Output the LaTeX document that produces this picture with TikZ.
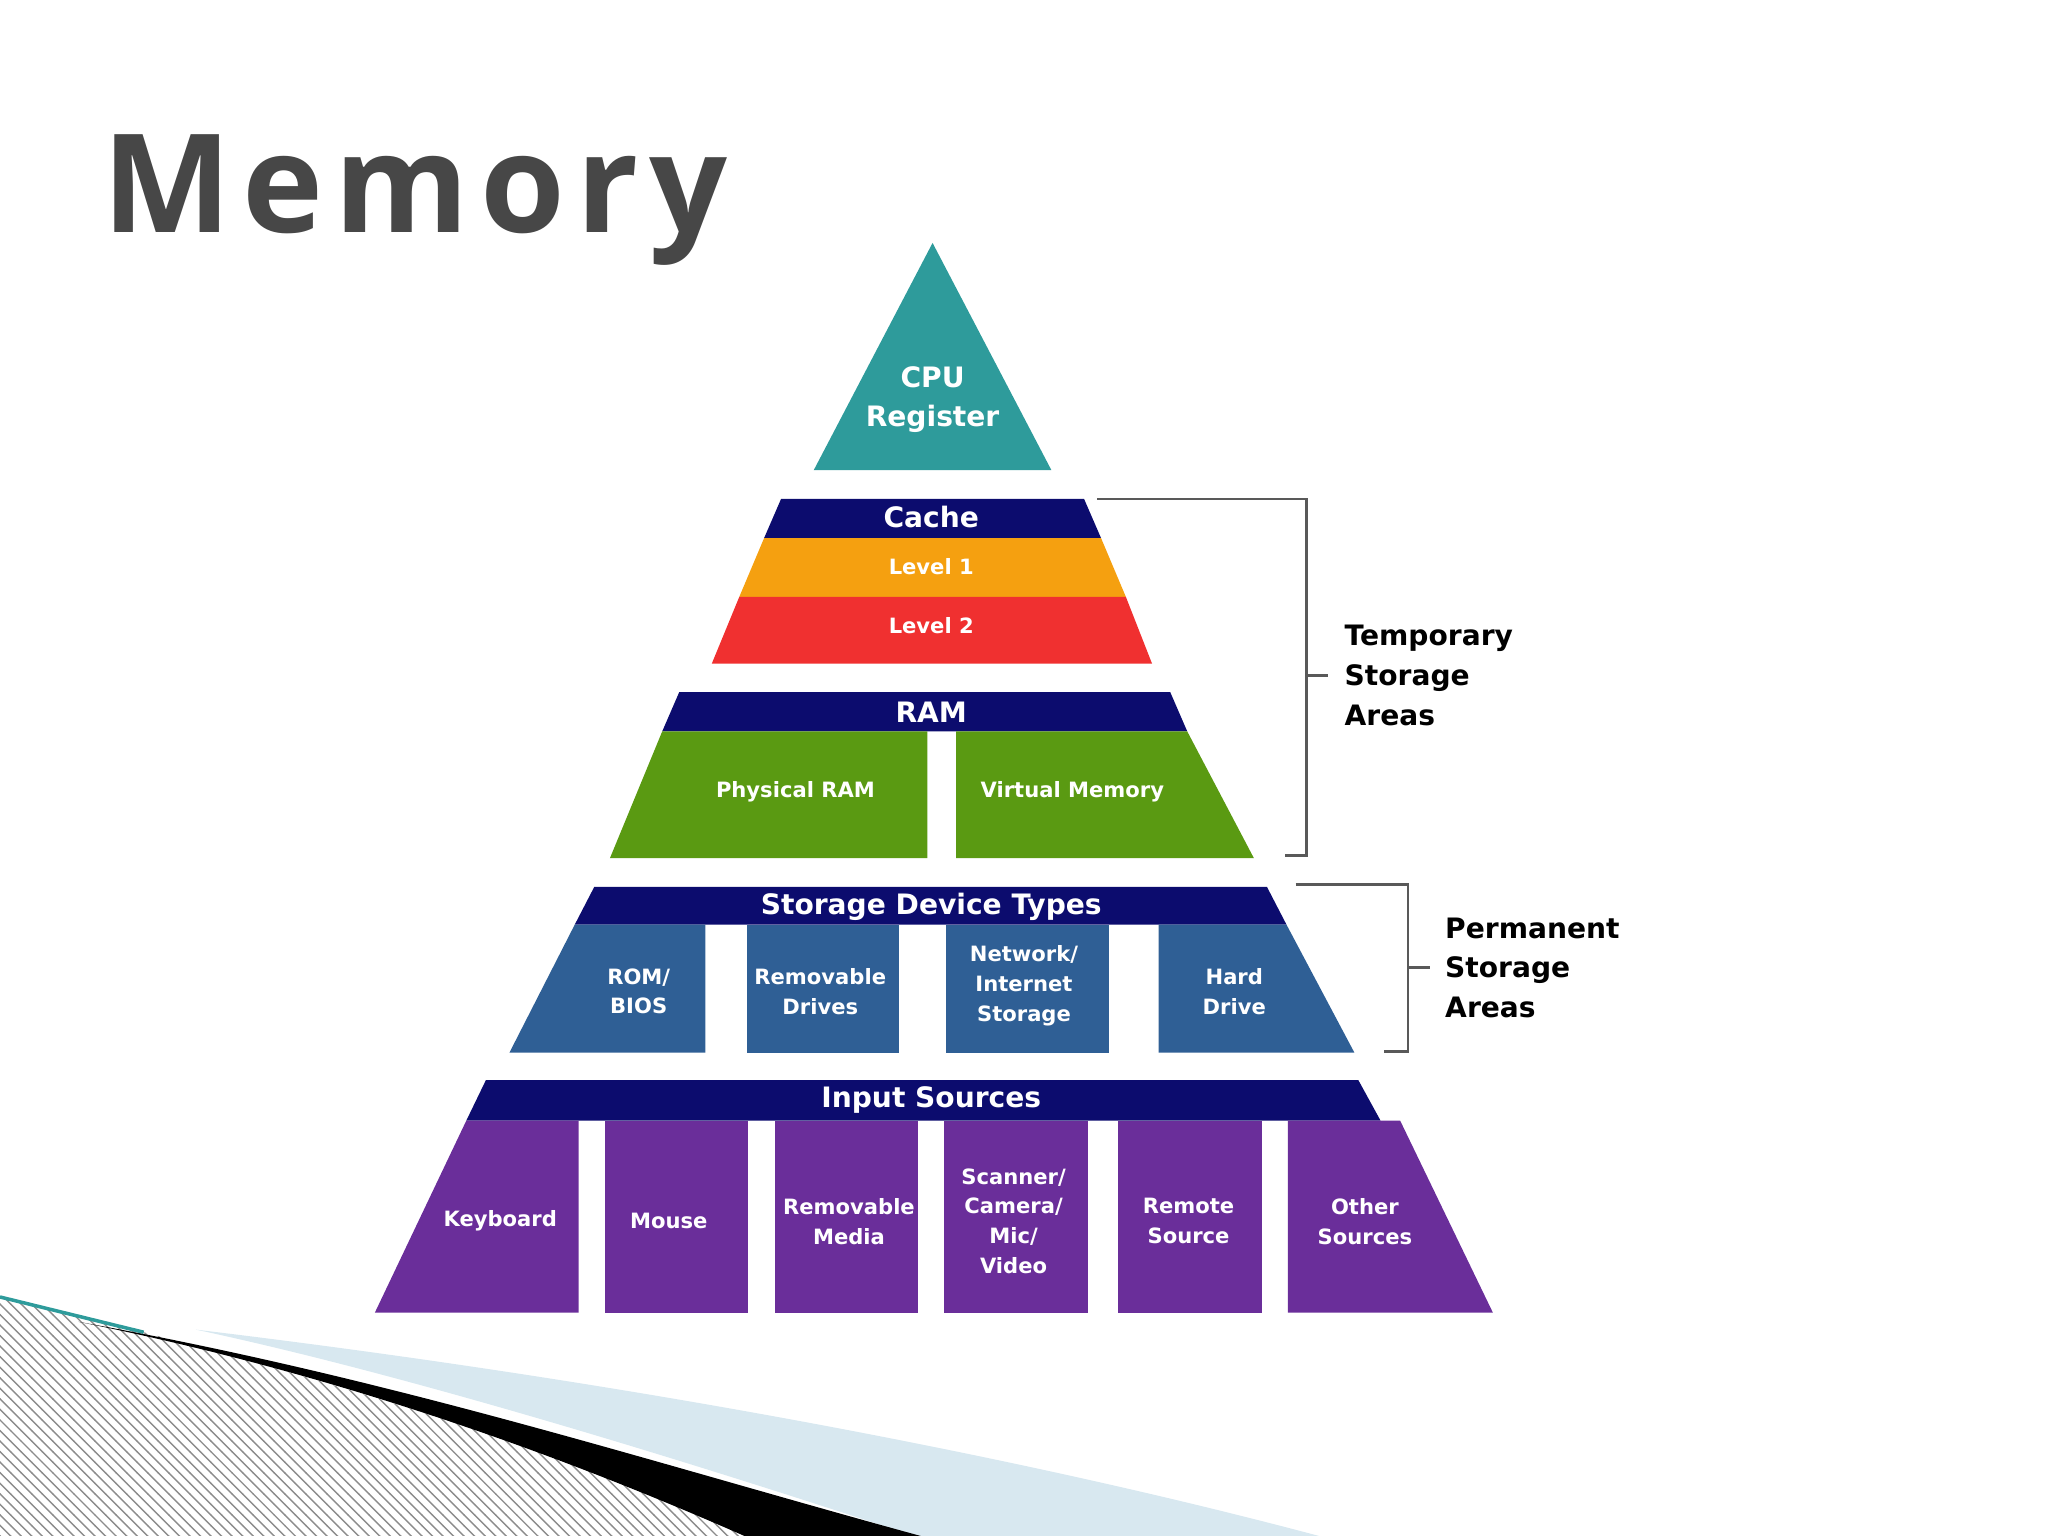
\documentclass[tikz,border=0pt]{standalone}
\usepackage{fontspec}
\setmainfont{DejaVu Sans}
\newfontfamily\titlefont[LetterSpace=8]{Open Sans}
\usetikzlibrary{patterns}
\definecolor{teal1}{HTML}{2E9B9B}
\definecolor{navy1}{HTML}{0C0C6E}
\definecolor{orange1}{HTML}{F5A010}
\definecolor{red1}{HTML}{F03030}
\definecolor{green1}{HTML}{5A9A12}
\definecolor{blue1}{HTML}{2F5F95}
\definecolor{purple1}{HTML}{6A2E9A}
\definecolor{lblue}{HTML}{D8E8F0}
\tikzset{
 hdr/.style={font=\bfseries\fontsize{8}{9}\selectfont,text=white},
 box/.style={font=\bfseries\fontsize{6}{8.5}\selectfont,text=white,align=center},
 lab/.style={font=\bfseries\fontsize{8}{11.3}\selectfont,align=left,anchor=west},
 brk/.style={draw=black!65,line width=0.8pt}
}
\begin{document}
\begin{tikzpicture}[x=0.013061cm,y=-0.013061cm]
\useasboundingbox (0,0) rectangle (1568,1176);
% decoration
\fill[pattern=north west lines,pattern color=black!45] (0,993) -- (110,1020) .. controls (300,1070) and (450,1120) .. (580,1176) -- (0,1176) -- cycle;
\draw[teal1,line width=1pt] (0,993) -- (110,1020);
\fill[lblue] (150,1018) .. controls (500,1060) and (800,1120) .. (1010,1176) -- (700,1176) .. controls (500,1110) and (300,1050) .. (150,1018) -- cycle;
\fill[black] (60,1012) .. controls (300,1055) and (500,1120) .. (705,1176) -- (570,1176) .. controls (420,1110) and (250,1050) .. (60,1012) -- cycle;
% title
\node[anchor=base west,text=black!72,inner sep=0] (title) at (78,178) {\titlefont\bfseries\fontsize{39}{40}\selectfont Memory};
% CPU
\fill[teal1] (714,186) -- (805,360) -- (623,360) -- cycle;
\node[box,font=\bfseries\fontsize{8}{11.3}\selectfont] (cpu) at (714,306) {CPU\\Register};
% Cache
\fill[navy1] (598,382) -- (830,382) -- (843,412) -- (585,412) -- cycle;
\fill[orange1] (585,412) -- (843,412) -- (862,457) -- (566,457) -- cycle;
\fill[red1] (566,457) -- (862,457) -- (882,508) -- (545,508) -- cycle;
\node[hdr] (cache) at (713,396) {Cache};
\node[box] (l1) at (713,434) {Level 1};
\node[box] (l2) at (713,479) {Level 2};
% RAM
\fill[navy1] (520,530) -- (896,530) -- (909,560) -- (507,560) -- cycle;
\fill[green1] (507,560) -- (710,560) -- (710,657) -- (467,657) -- cycle;
\fill[green1] (732,560) -- (909,560) -- (960,657) -- (732,657) -- cycle;
\node[hdr] (ram) at (713,545) {RAM};
\node[box] (phys) at (609,606) {Physical RAM};
\node[box] (virt) at (821,606) {Virtual Memory};
% Storage
\fill[navy1] (455,679) -- (970,679) -- (985,708) -- (440,708) -- cycle;
\fill[blue1] (440,708) -- (540,708) -- (540,806) -- (390,806) -- cycle;
\fill[blue1] (572,708) rectangle (688,806);
\fill[blue1] (724,708) rectangle (849,806);
\fill[blue1] (887,708) -- (985,708) -- (1037,806) -- (887,806) -- cycle;
\node[hdr] (stor) at (713,694) {Storage Device Types};
\node[box] (rom) at (489,759) {ROM/\\BIOS};
\node[box] (remd) at (628,759) {Removable\\Drives};
\node[box] (net) at (784,755) {Network/\\Internet\\Storage};
\node[box] (hd) at (945,759) {Hard\\Drive};
% Input
\fill[navy1] (372,827) -- (1040,827) -- (1057,858) -- (357,858) -- cycle;
\fill[purple1] (357,858) -- (443,858) -- (443,1005) -- (287,1005) -- cycle;
\fill[purple1] (463,858) rectangle (573,1005);
\fill[purple1] (593,858) rectangle (703,1005);
\fill[purple1] (723,858) rectangle (833,1005);
\fill[purple1] (856,858) rectangle (966,1005);
\fill[purple1] (986,858) -- (1072,858) -- (1143,1005) -- (986,1005) -- cycle;
\node[hdr] (inp) at (713,842) {Input Sources};
\node[box] (kb) at (383,935) {Keyboard};
\node[box] (mouse) at (512,935) {Mouse};
\node[box] (remm) at (650,935) {Removable\\Media};
\node[box] (scan) at (776,935) {Scanner/\\Camera/\\Mic/\\Video};
\node[box] (rem) at (910,935) {Remote\\Source};
\node[box] (oth) at (1045,935) {Other\\Sources};
% brackets
\coordinate (t1) at (840,382); \coordinate (t2) at (1000,382);
\coordinate (t3) at (1000,655); \coordinate (t4) at (984,655);
\draw[brk] (t1) -- (t2) -- (t3) -- (t4);
\draw[brk] (1000,517) -- (1017,517);
\node[lab] (temp) at (1020,517) {Temporary\\Storage\\Areas};
\coordinate (p1) at (992,677); \coordinate (p2) at (1078,677);
\coordinate (p3) at (1078,805); \coordinate (p4) at (1060,805);
\draw[brk] (p1) -- (p2) -- (p3) -- (p4);
\draw[brk] (1078,741) -- (1095,741);
\node[lab] (perm) at (1097,741) {Permanent\\Storage\\Areas};
\end{tikzpicture}
\end{document}
